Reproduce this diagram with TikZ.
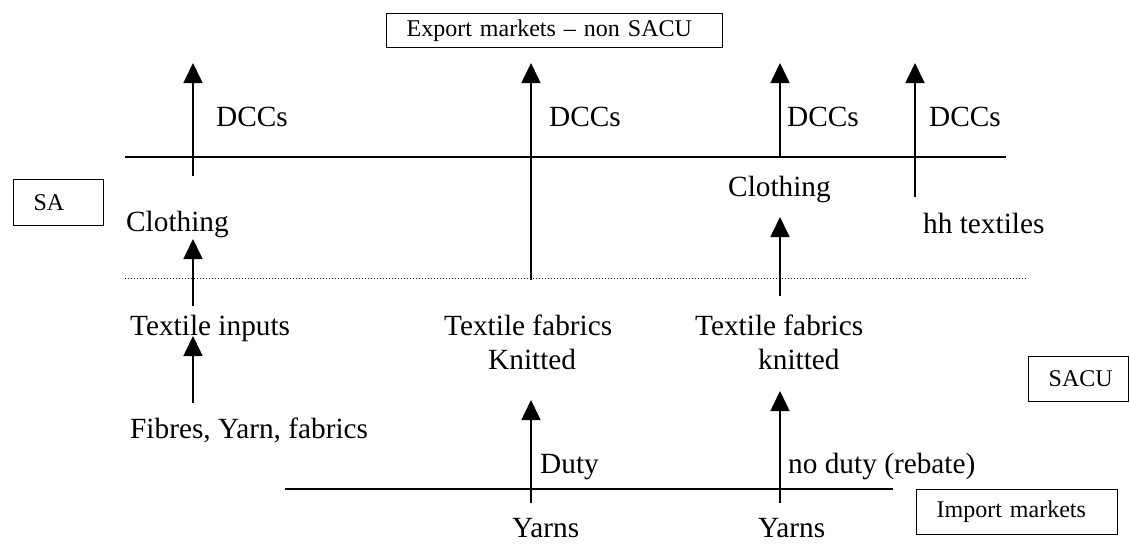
\documentclass[tikz,border=0pt]{standalone}
\usepackage{fontspec}
\setmainfont{Liberation Serif}
\usetikzlibrary{arrows.meta}
\begin{document}
\begin{tikzpicture}[x=1pt,y=-1pt,
  lbl/.style={anchor=base west, inner sep=0pt, font=\fontsize{29.3}{34}\selectfont},
  boxst/.style={draw, line width=1.3pt, anchor=north west, inner ysep=0pt, font=\fontsize{24}{28}\selectfont, align=left},
  up/.style={line width=1.6pt, -{Triangle[width=19pt,length=20pt]}},
  rule/.style={line width=1.6pt},
  dots/.style={line width=1pt, dash pattern=on 1pt off 2pt}]
\useasboundingbox (0,0) rectangle (1130,544);

% boxes
\node (exp) [boxst, inner xsep=20pt, text width=296pt, minimum height=34pt] at (386,13) {Export markets -- non SACU};
\node (sa) [boxst, inner xsep=20pt, text width=50pt, minimum height=46pt] at (13,179) {SA};
\node (sacu) [boxst, inner xsep=20pt, text width=60pt, minimum height=45pt] at (1028,356) {SACU};
\node (imp) [boxst, inner xsep=20pt, text width=161pt, minimum height=45pt] at (916,489) {Import markets};

% horizontal rules
\coordinate (r1a) at (125,157); \coordinate (r1b) at (1006,157);
\coordinate (r2a) at (125,278); \coordinate (r2b) at (1028,278);
\coordinate (r3a) at (285,489); \coordinate (r3b) at (893,489);
\draw[rule] (r1a) -- (r1b);
\draw[dots] (r2a) -- (r2b);
\draw[rule] (r3a) -- (r3b);

% labels
\node (dcc1) [lbl] at (216,126) {DCCs};
\node (dcc2) [lbl] at (549,126) {DCCs};
\node (dcc3) [lbl] at (787,126) {DCCs};
\node (dcc4) [lbl] at (929,126) {DCCs};
\node (cl1) [lbl] at (126,231) {Clothing};
\node (cl2) [lbl] at (728,196) {Clothing};
\node (hh) [lbl] at (923,233) {hh textiles};
\node (tin) [lbl] at (130,335) {Textile inputs};
\node (fyf) [lbl] at (130,438) {Fibres, Yarn, fabrics};
\node (tf1) [lbl] at (444,335) {Textile fabrics};
\node (kn1) [lbl] at (488,369) {Knitted};
\node (tf2) [lbl] at (695,335) {Textile fabrics};
\node (kn2) [lbl] at (758,369) {knitted};
\node (duty) [lbl] at (540,473) {Duty};
\node (nod) [lbl] at (788,473) {no duty (rebate)};
\node (y1) [lbl] at (512,537) {Yarns};
\node (y2) [lbl] at (758,537) {Yarns};

% arrow end points
\coordinate (a1s) at (193,176); \coordinate (a1e) at (193,63);
\coordinate (a2s) at (193,306); \coordinate (a2e) at (193,239);
\coordinate (a3s) at (193,403); \coordinate (a3e) at (193,336);
\coordinate (a4s) at (531,280); \coordinate (a4e) at (531,63);
\coordinate (a5s) at (531,503); \coordinate (a5e) at (531,400);
\coordinate (a6s) at (780,157); \coordinate (a6e) at (780,63);
\coordinate (a7s) at (780,296); \coordinate (a7e) at (780,217);
\coordinate (a8s) at (780,503); \coordinate (a8e) at (780,391);
\coordinate (a9s) at (915,197); \coordinate (a9e) at (915,63);

\draw[up] (a1s) -- (a1e);
\draw[up] (a2s) -- (a2e);
\draw[up] (a3s) -- (a3e);
\draw[up] (a4s) -- (a4e);
\draw[up] (a5s) -- (a5e);
\draw[up] (a6s) -- (a6e);
\draw[up] (a7s) -- (a7e);
\draw[up] (a8s) -- (a8e);
\draw[up] (a9s) -- (a9e);
\end{tikzpicture}
\end{document}
